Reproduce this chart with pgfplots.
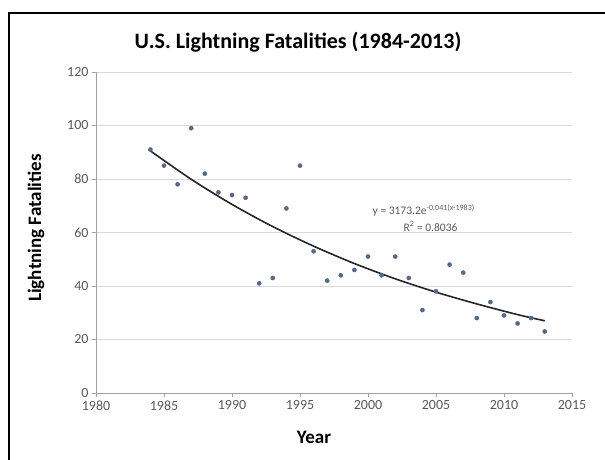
\documentclass[border=0pt]{standalone}
\usepackage{pgfplots}
\pgfplotsset{compat=1.18}
\usepackage{fontspec}
\setmainfont{Carlito}
\definecolor{tickgray}{RGB}{89,89,89}
\definecolor{gridgray}{RGB}{217,217,217}
\definecolor{axgray}{RGB}{160,160,160}
\definecolor{markc}{RGB}{85,105,135}
\pgfplotstableread{
year deaths
1984 91
1985 85
1986 78
1987 99
1988 82
1989 75
1990 74
1991 73
1992 41
1993 43
1994 69
1995 85
1996 53
1997 42
1998 44
1999 46
2000 51
2001 44
2002 51
2003 43
2004 31
2005 38
2006 48
2007 45
2008 28
2009 34
2010 29
2011 26
2012 28
2013 23
}\datatable
\pgfplotstableread{
year fit
1984 90.5
1987 79.9
1990 70.5
1993 62.2
1996 54.9
1999 48.4
2002 42.7
2005 37.7
2008 33.3
2011 29.3
2013 27.0
}\fittable
\begin{document}
\begin{tikzpicture}[x=1pt,y=1pt]
\useasboundingbox (0,0) rectangle (605,460);
\draw[line width=1.6pt] (9,0) -- (9,447) -- (605,447);
\node[font=\fontsize{22}{22}\selectfont\bfseries] at (298,418) {U.S. Lightning Fatalities (1984-2013)};
\node[font=\fontsize{19}{19}\selectfont\bfseries, rotate=90] at (36,232) {Lightning Fatalities};
\node[font=\fontsize{19}{19}\selectfont\bfseries] at (314,23) {Year};
\begin{axis}[
  at={(96pt,67pt)}, anchor=south west,
  scale only axis, width=476pt, height=321pt,
  xmin=1980, xmax=2015, ymin=0, ymax=120,
  xtick={1980,1985,...,2015}, ytick={0,20,...,120},
  /pgf/number format/1000 sep={},
  /pgf/number format/assume math mode=true,
  tick label style={font=\fontsize{14}{14}\selectfont, text=tickgray},
  axis x line*=bottom, axis y line*=left,
  axis line style={axgray, line width=0.8pt},
  every tick/.style={axgray, line width=0.8pt},
  tick align=outside, major tick length=4pt,
  ymajorgrids, grid style={gridgray, line width=0.8pt},
  clip=false,
]
\addplot[only marks, mark=*, mark size=2.1pt, markc, mark options={draw=markc, fill=markc}] table[x=year, y=deaths] {\datatable};
\addplot[black!85, line width=1.6pt, smooth] table[x=year, y=fit] {\fittable};
\node[font=\fontsize{11.5}{11.5}\selectfont, text=tickgray] at (axis cs:2004.1,68.2) {y = 3173.2e\textsuperscript{-0.041(x-1983)}};
\node[font=\fontsize{11.5}{11.5}\selectfont, text=tickgray] at (axis cs:2004.6,62.3) {R\textsuperscript{2} = 0.8036};
\end{axis}
\end{tikzpicture}
\end{document}
